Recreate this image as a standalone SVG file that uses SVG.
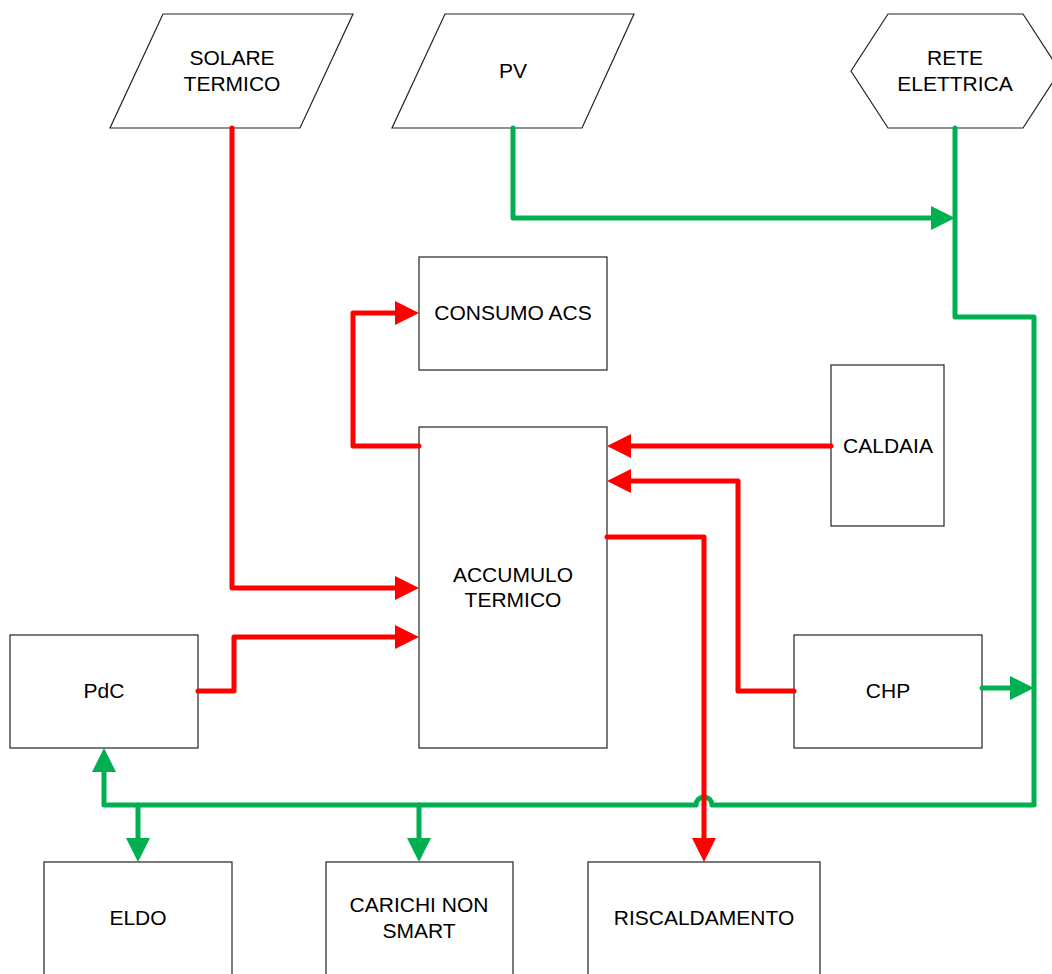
<svg xmlns="http://www.w3.org/2000/svg" width="1052" height="974" viewBox="0 0 1052 974">
<style>
.n{fill:#fff;stroke:#222;stroke-width:1.2}
.t{font-family:"Liberation Sans",Arial,sans-serif;font-size:21px;fill:#000;text-anchor:middle}
.r{fill:none;stroke:#ff0000;stroke-width:5;stroke-linecap:round;stroke-linejoin:round}
.g{fill:none;stroke:#00b050;stroke-width:5;stroke-linecap:round;stroke-linejoin:round}
</style>
<defs>
<marker id="ar" markerUnits="userSpaceOnUse" markerWidth="24" markerHeight="24" refX="4" refY="12" orient="auto"><path d="M0,0 L24,12 L0,24 z" fill="#ff0000"/></marker>
<marker id="ag" markerUnits="userSpaceOnUse" markerWidth="24" markerHeight="24" refX="4" refY="12" orient="auto"><path d="M0,0 L24,12 L0,24 z" fill="#00b050"/></marker>
</defs>
<rect width="1052" height="974" fill="#fff"/>
<g id="solare"><polygon class="n" points="163,14 353,14 300,128 110,128"/><text class="t" x="232" y="65">SOLARE</text><text class="t" x="232" y="91">TERMICO</text></g>
<g id="pv"><polygon class="n" points="445,14 634,14 582,128 392,128"/><text class="t" x="513" y="78">PV</text></g>
<g id="rete"><polygon class="n" points="888,14 1023,14 1060,71 1023,128 888,128 851,71"/><text class="t" x="955" y="65">RETE</text><text class="t" x="955" y="91">ELETTRICA</text></g>
<g id="consumo"><rect class="n" x="419" y="257" width="188" height="113"/><text class="t" x="513" y="320">CONSUMO ACS</text></g>
<g id="accumulo"><rect class="n" x="419" y="427" width="188" height="321"/><text class="t" x="513" y="582">ACCUMULO</text><text class="t" x="513" y="607">TERMICO</text></g>
<g id="caldaia"><rect class="n" x="831" y="365" width="113" height="161"/><text class="t" x="888" y="453">CALDAIA</text></g>
<g id="chp"><rect class="n" x="794" y="635" width="188" height="113"/><text class="t" x="888" y="698">CHP</text></g>
<g id="pdc"><rect class="n" x="10" y="635" width="188" height="113"/><text class="t" x="104" y="698">PdC</text></g>
<g id="eldo"><rect class="n" x="44" y="862" width="188" height="120"/><text class="t" x="138" y="925">ELDO</text></g>
<g id="carichi"><rect class="n" x="326" y="862" width="187" height="120"/><text class="t" x="419" y="912">CARICHI NON</text><text class="t" x="419" y="938">SMART</text></g>
<g id="riscaldamento"><rect class="n" x="588" y="862" width="232" height="120"/><text class="t" x="704" y="925">RISCALDAMENTO</text></g>
<g id="connectors">
<path class="g" d="M513,128 L513,218 L935,218" marker-end="url(#ag)"/>
<path class="g" d="M955,128 L955,317 L1034,317 L1034,805 L712,805 A8,8 0 0 0 696,805 L104,805 L104,768" marker-end="url(#ag)"/>
<path class="g" d="M982,688 L1014,688" marker-end="url(#ag)"/>
<path class="g" d="M138,805 L138,842" marker-end="url(#ag)"/>
<path class="g" d="M419,805 L419,842" marker-end="url(#ag)"/>
<path class="r" d="M232,128 L232,588 L399,588" marker-end="url(#ar)"/>
<path class="r" d="M419,446 L353,446 L353,313 L399,313" marker-end="url(#ar)"/>
<path class="r" d="M198,691 L234,691 L234,637 L399,637" marker-end="url(#ar)"/>
<path class="r" d="M831,446 L627,446" marker-end="url(#ar)"/>
<path class="r" d="M794,691 L738,691 L738,481 L627,481" marker-end="url(#ar)"/>
<path class="r" d="M607,537 L704,537 L704,842" marker-end="url(#ar)"/>
</g>
</svg>
